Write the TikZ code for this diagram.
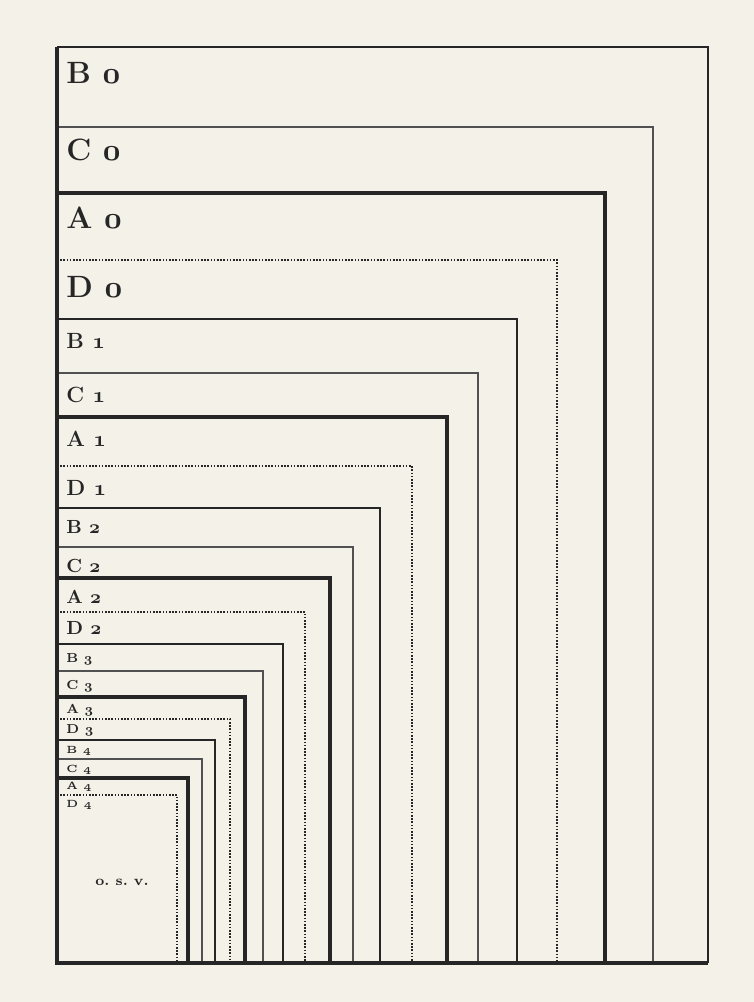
\documentclass[tikz,border=0pt]{standalone}
\usepackage{fix-cm}
\usepackage{tikz}

\definecolor{paper}{HTML}{F3F1E8}
\definecolor{ink}{HTML}{262626}

% bold old style figures
\newcommand\sheetno[1]{{\usefont{OML}{cmm}{b}{it}#1}}

\tikzset{
  asheet/.style={draw=ink,line width=1.7pt},
  bsheet/.style={draw=ink,line width=1pt},
  csheet/.style={draw=ink!80,line width=0.6pt},
  dsheet/.style={draw=ink,line width=1.2pt,dash pattern=on 0.8pt off 0.8pt},
  frameline/.style={draw=ink,line width=1.6pt},
  sheetlabel/.style={anchor=base west,inner sep=0pt,text=ink},
}

\begin{document}
\begin{tikzpicture}[x=0.5pt,y=-0.5pt]
\fill[paper] (0,0) rectangle (754,1002);
\useasboundingbox (0,0) rectangle (754,1002);
% common lower left corner of all sheets
\coordinate (corner) at (57,963);
% series/number/top/right/style/font size/baseline
\foreach \n/\s/\t/\r/\st/\fs/\bl in {
  B/0/47/708/bsheet/15.4/83,
  C/0/127/653/csheet/15.4/160,
  A/0/193/605/asheet/15.4/228,
  D/0/260/557/dsheet/15.4/297,
  B/1/319/517/bsheet/11/348,
  C/1/373/478/csheet/11/402,
  A/1/417/447/asheet/11/446,
  D/1/466/412/dsheet/11/495,
  B/2/508/380/bsheet/9.5/533,
  C/2/547/353/csheet/9.5/572,
  A/2/578/330/asheet/9.5/603,
  D/2/612/305/dsheet/9.5/634,
  B/3/644/283/bsheet/6.5/662,
  C/3/671/263/csheet/6.5/689,
  A/3/697/245/asheet/6.5/713,
  D/3/719/230/dsheet/6.5/733,
  B/4/740/215/bsheet/5.2/753,
  C/4/759/202/csheet/5.2/772,
  A/4/778/188/asheet/5.2/789,
  D/4/795/177/dsheet/5.2/807%
}{
  \coordinate (top\n\s) at (57,\t);
  \coordinate (right\n\s) at (\r,963);
  \draw[\st] (top\n\s) -| (right\n\s);
  \node[sheetlabel,font=\bfseries\fontsize{\fs}{\fs}\selectfont] (lab\n\s) at (66,\bl) {\n\ \sheetno{\s}};
}
% outer frame: left side and bottom
\draw[frameline] (topB0) -- (corner) -- (rightB0);
\node[text=ink,font=\bfseries\fontsize{7}{7}\selectfont] (osv) at (122,882) {o.\ s.\ v.};
\end{tikzpicture}
\end{document}
